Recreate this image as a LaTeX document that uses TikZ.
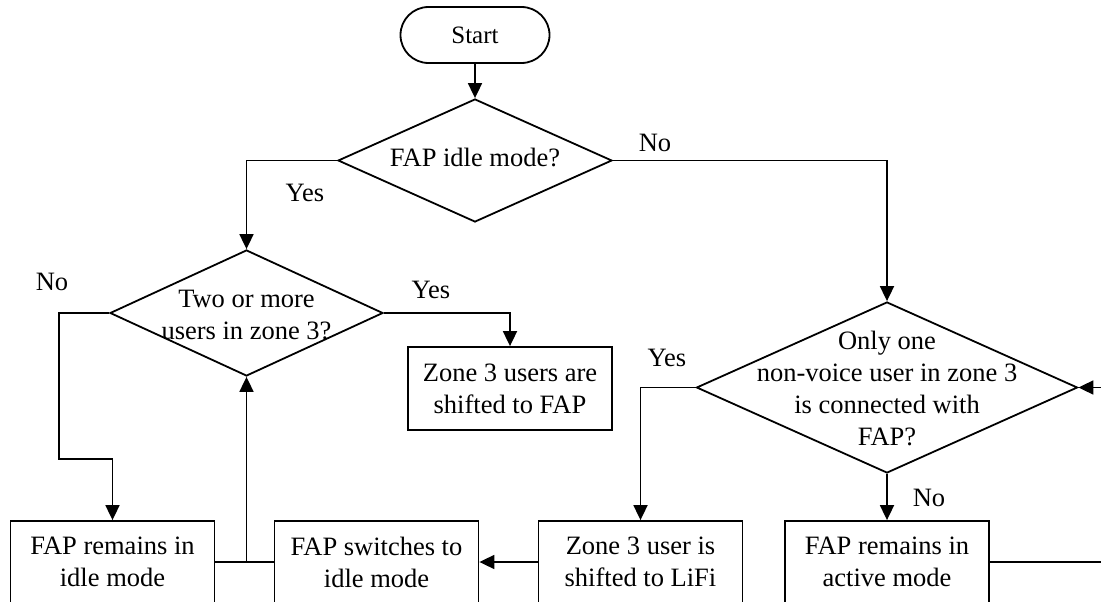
\documentclass[tikz,border=0pt]{standalone}
\usepackage{fontspec}
\setmainfont{Liberation Serif}
\usetikzlibrary{shapes.geometric,arrows.meta}
\begin{document}
\begin{tikzpicture}[x=1pt,y=-1pt,
  every node/.style={font=\fontsize{26.5}{32}\selectfont},
  line/.style={line width=1.8pt},
  arr/.style={line width=1.8pt,-{Triangle[length=15pt,width=14pt]}},
  dec/.style={diamond,draw,line width=1.8pt,inner sep=0pt},
  proc/.style={rectangle,draw,line width=1.8pt,minimum width=204pt,minimum height=82pt,inner sep=0pt,align=center},
  txt/.style={align=center,inner sep=0pt},
  lbl/.style={inner sep=0pt}]
\useasboundingbox (0,0) rectangle (1101,602);
% nodes
\node[draw,line width=1.8pt,rounded corners=28pt,minimum width=149pt,minimum height=56pt,inner sep=0pt,font=\fontsize{25}{30}\selectfont] (start) at (475,35) {Start};
\node[dec,minimum width=274pt,minimum height=123pt] (d1) at (475,160.5) {};
\node[txt] (t1) at (475,157) {FAP idle mode?};
\node[dec,minimum width=273pt,minimum height=126pt] (d2) at (246.5,313) {};
\node[txt] (t2) at (246.5,315.5) {Two or more\\users in zone 3?};
\node[dec,minimum width=381pt,minimum height=171pt] (d3) at (887,387.5) {};
\node[txt] (t3) at (887,388.5) {Only one\\non-voice user in zone 3\\is connected with\\FAP?};
\node[proc,minimum height=83pt] (z3) at (510,388.5) {Zone 3 users are\\shifted to FAP};
\node[proc] (b1) at (112.5,562) {FAP remains in\\idle mode};
\node[proc] (b2) at (376.5,562) {FAP switches to\\idle mode};
\node[proc] (b3) at (640.5,562) {Zone 3 user is\\shifted to LiFi};
\node[proc] (b4) at (887,562) {FAP remains in\\active mode};
% labels
\node[lbl] (lno1) at (655,143) {No};
\node[lbl] (lyes1) at (305,193) {Yes};
\node[lbl] (lno2) at (52,282) {No};
\node[lbl] (lyes2) at (431,290) {Yes};
\node[lbl] (lyes3) at (667,358) {Yes};
\node[lbl] (lno3) at (929,498) {No};
% helper coordinates
\coordinate (c1) at (59,459);
\coordinate (j) at (246.5,562);
\coordinate (loop) at (1115,475);
% connectors
\draw[arr] (start.south) -- (d1.north);
\draw[arr] (d1.east) -| (d3.north);
\draw[arr] (d1.west) -| (d2.north);
\draw[arr] (d2.east) -| (z3.north);
\draw[arr] (d2.west) -| (c1) -| (b1.north);
\draw[line] (b1.east) -- (b2.west);
\draw[arr] (j) -- (d2.south);
\draw[arr] (b3.west) -- (b2.east);
\draw[arr] (d3.west) -| (b3.north);
\draw[arr] (d3.south) -- (b4.north);
\draw[arr] (b4.east) -| (loop) |- (d3.east);
\end{tikzpicture}
\end{document}
